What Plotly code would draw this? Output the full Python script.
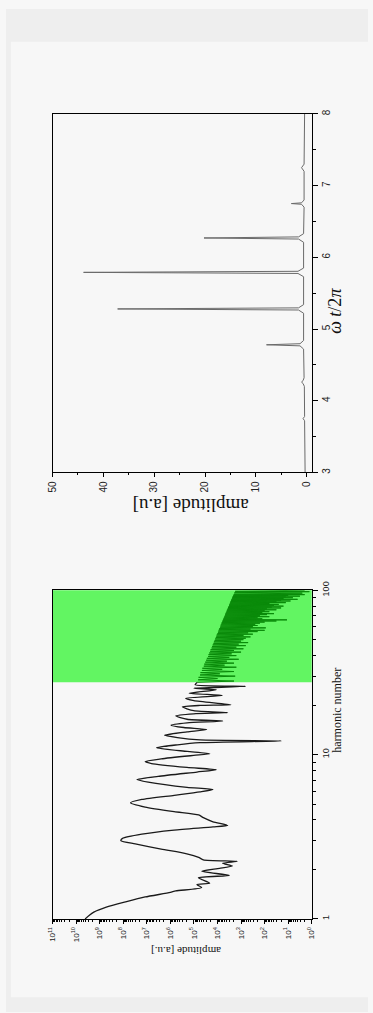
import math
import plotly.graph_objects as go

W, H = 373, 1013

# ---------------- top panel: amplitude vs omega t / 2 pi ----------------
top_t = [3.00, 3.50, 3.72, 3.75, 3.78, 4.20, 4.24, 4.26, 4.28, 4.32, 4.72, 4.765, 4.78, 4.795, 4.84,
         5.22, 5.265, 5.28, 5.295, 5.34, 5.73, 5.775, 5.79, 5.805, 5.85, 6.21, 6.255, 6.27, 6.285, 6.33,
         6.70, 6.74, 6.75, 6.76, 6.80, 7.20, 7.25, 7.30, 7.70, 8.00]
top_amp = [0.3, 0.35, 0.4, 0.7, 0.4, 0.45, 0.7, 1.0, 0.7, 0.5, 0.6, 1.3, 7.9, 1.3, 0.6,
           0.6, 1.6, 37.2, 1.6, 0.6, 0.6, 1.7, 43.9, 1.7, 0.6, 0.6, 1.6, 20.2, 1.6, 0.6,
           0.5, 1.0, 3.0, 1.0, 0.5, 0.5, 1.0, 0.5, 0.4, 0.4]
top_x_ticks = [0, 10, 20, 30, 40, 50]
top_y_ticks = [3, 4, 5, 6, 7, 8]

# ---------------- bottom panel: amplitude vs harmonic number ----------------
harm_n = [1.00, 1.05, 1.10, 1.18, 1.27, 1.36, 1.45, 1.48, 1.55, 1.62, 1.65, 1.78, 1.84, 1.95, 2.03,
          2.10, 2.18, 2.24, 2.29, 2.37, 2.49, 2.66, 2.86, 2.99, 3.09, 3.28, 3.47, 3.63, 3.71, 3.90,
          4.13, 4.29, 4.49, 4.79, 5.09, 5.33, 5.65, 5.93, 6.13, 6.32, 6.80, 7.05, 7.37, 7.83, 8.08,
          8.35, 8.82, 9.07, 9.42, 9.88, 10.1, 10.45, 11.0, 11.47, 11.82, 12.1, 12.27, 12.67, 13.1,
          13.73, 14.2, 14.61, 15.1, 15.6, 16.0, 16.4, 17.2, 17.7, 18.0, 18.5, 19.5, 19.9, 20.1,
          21.3, 22.0, 22.9, 23.6, 24.8, 25.3, 26.0, 26.6, 27.5]
harm_logamp = [9.62, 9.45, 9.25, 8.72, 7.90, 7.07, 6.00, 5.77, 4.67, 4.87, 4.33, 4.81, 3.50, 4.67, 3.91,
               3.37, 3.78, 3.16, 4.60, 4.80, 5.30, 6.39, 7.49, 8.10, 8.03, 7.21, 5.84, 4.19, 3.57, 4.19,
               4.60, 4.80, 5.84, 7.07, 7.69, 7.21, 5.84, 4.74, 4.19, 5.29, 6.94, 7.42, 6.52, 4.87, 4.05,
               5.29, 6.80, 7.07, 6.39, 5.01, 4.33, 5.29, 6.59, 5.70, 4.74, 1.30, 4.74, 5.70, 6.25,
               5.29, 4.46, 5.43, 5.97, 5.29, 3.78, 5.29, 5.77, 5.01, 3.57, 5.01, 5.49, 4.74, 3.43,
               5.00, 5.35, 3.80, 5.20, 4.05, 5.00, 2.81, 4.95, 4.85]

green_start = 27.5
green_dip_n = list(range(28, 101))
green_dip_logamp = [3.30, 4.00, 3.25, 3.90, 3.30, 3.80, 3.20, 3.70, 3.30, 3.60, 3.10, 3.50, 3.20,
                    3.40, 3.00, 3.30, 2.90, 3.20, 2.80, 3.10, 2.70, 3.00, 2.90, 2.80, 2.60, 2.90,
                    2.50, 2.70, 2.30, 2.00, 2.60, 1.95, 2.50, 2.30, 2.40, 2.20, 2.00, 1.50, 1.05,
                    2.10, 2.30, 1.80, 2.20, 1.90, 1.60, 2.10, 1.80, 2.00, 1.50, 1.90, 1.30, 1.70,
                    1.20, 1.60, 1.40, 1.80, 1.10, 1.50, 0.90, 1.30, 0.60, 1.20, 0.80, 1.10, 0.50,
                    1.00, 0.30, 0.90, 0.40, 0.70, 0.10, 0.60, 0.30]
green_env_n = [k + 0.5 for k in range(28, 100)]
green_env_logamp = [4.82, 4.80, 4.74, 4.72, 4.66, 4.64, 4.58, 4.56, 4.52, 4.48, 4.45, 4.40, 4.38,
                    4.35, 4.31, 4.29, 4.25, 4.23, 4.20, 4.17, 4.15, 4.12, 4.10, 4.07, 4.05, 4.03,
                    4.00, 3.98, 3.96, 3.94, 3.92, 3.89, 3.87, 3.86, 3.83, 3.82, 3.79, 3.78, 3.76,
                    3.74, 3.72, 3.70, 3.68, 3.67, 3.65, 3.63, 3.61, 3.60, 3.58, 3.56, 3.55, 3.53,
                    3.51, 3.50, 3.48, 3.47, 3.45, 3.44, 3.42, 3.41, 3.39, 3.38, 3.36, 3.35, 3.33,
                    3.32, 3.30, 3.29, 3.28, 3.26, 3.25, 3.24]

amp_exponents = list(range(0, 12))
harm_ticks = [1, 10, 100]

# ---------------- build traces ----------------
g_n = [green_start]
g_a = [harm_logamp[-1]]
for i, n in enumerate(green_dip_n):
    g_n.append(n)
    g_a.append(green_dip_logamp[i])
    if i < len(green_env_n):
        g_n.append(green_env_n[i])
        g_a.append(green_env_logamp[i])

fig = go.Figure()
fig.add_trace(go.Scatter(x=top_amp, y=top_t, mode="lines", xaxis="x", yaxis="y",
                         line=dict(color="#6a6a6a", width=1), showlegend=False, hoverinfo="skip"))
fig.add_trace(go.Scatter(x=[10 ** v for v in harm_logamp], y=harm_n, mode="lines", xaxis="x2", yaxis="y2",
                         line=dict(color="#1a1a1a", width=1.3, shape="spline", smoothing=0.6),
                         showlegend=False, hoverinfo="skip"))
fig.add_trace(go.Scatter(x=[10 ** v for v in g_a], y=g_n, mode="lines", xaxis="x2", yaxis="y2",
                         line=dict(color="#0a8a0a", width=1), showlegend=False, hoverinfo="skip"))


def px_x(p):
    return p / W


def px_y(p):
    return 1 - p / H


sans = "Liberation Sans, Arial, sans-serif"
serif = "Liberation Serif, Times New Roman, serif"
axcommon = dict(showgrid=False, zeroline=False, showline=True, linecolor="black", linewidth=1,
                mirror=True, ticks="outside", tickcolor="black", tickwidth=1, tickangle=-90)

xdom = [px_x(48), px_x(315)]
fig.update_layout(
    width=W, height=H, margin=dict(l=0, r=0, t=0, b=0),
    paper_bgcolor="#f7f7f7", plot_bgcolor="#f7f7f7",
    xaxis=dict(domain=xdom, anchor="y", range=[50, -1], tickvals=top_x_ticks, ticklen=4,
               tickfont=dict(family=sans, size=10, color="#222"),
               minor=dict(ticks="outside", ticklen=2, tickvals=[5, 15, 25, 35, 45], tickcolor="black"),
               **axcommon),
    yaxis=dict(domain=[px_y(468), px_y(106)], anchor="x", side="right", range=[3, 8],
               tickvals=top_y_ticks, ticklen=5,
               tickfont=dict(family=sans, size=10, color="#222"),
               minor=dict(ticks="outside", ticklen=3, tickvals=[3.5, 4.5, 5.5, 6.5, 7.5], tickcolor="black"),
               **axcommon),
    xaxis2=dict(domain=xdom, anchor="y2", type="log", range=[11, 0],
                tickvals=[10 ** e for e in amp_exponents],
                ticktext=["10<sup>%d</sup>" % e for e in amp_exponents], ticklen=4,
                tickfont=dict(family=sans, size=8, color="#222"),
                minor=dict(ticks="outside", ticklen=2, tickcolor="black",
                           tickvals=[k * 10 ** e for e in range(0, 11) for k in range(2, 10)]),
                **axcommon),
    yaxis2=dict(domain=[px_y(919), px_y(587)], anchor="x2", side="right", type="log", range=[0, 2],
                tickvals=harm_ticks, ticktext=[str(v) for v in harm_ticks], ticklen=5,
                tickfont=dict(family=sans, size=9, color="#222"),
                minor=dict(ticks="outside", ticklen=3, tickcolor="black",
                           tickvals=[k * 10 ** e for e in range(0, 2) for k in range(2, 10)]),
                **axcommon),
)

fig.add_shape(type="rect", xref="x2 domain", yref="y2 domain", x0=0, x1=1,
              y0=math.log10(green_start) / 2, y1=1, fillcolor="#62f562", line=dict(width=0), layer="below")

# faint scan-noise bands along the edges
for (x0, y0, x1, y1) in [(0, 0, W, 33), (0, 998, W, H), (0, 0, 5, H)]:
    fig.add_shape(type="rect", xref="paper", yref="paper", x0=px_x(x0), x1=px_x(x1),
                  y0=px_y(y1), y1=px_y(y0), fillcolor="#eeeeee", line=dict(width=0), layer="below")

fig.add_annotation(text="amplitude [a.u]", x=px_x(190), y=px_y(502), xref="paper", yref="paper",
                   showarrow=False, textangle=180, font=dict(family=serif, size=19, color="#111"))
fig.add_annotation(text="<i>ω t</i>/2<i>π</i>", x=px_x(352), y=px_y(280), xref="paper", yref="paper",
                   showarrow=False, textangle=-90, font=dict(family=serif, size=18, color="#111"))
fig.add_annotation(text="amplitude [a.u.]", x=px_x(186), y=px_y(960), xref="paper", yref="paper",
                   showarrow=False, textangle=180, font=dict(family=serif, size=11, color="#111"))
fig.add_annotation(text="harmonic number", x=px_x(350), y=px_y(753), xref="paper", yref="paper",
                   showarrow=False, textangle=-90, font=dict(family=serif, size=12, color="#111"))

fig.write_html("out.html")
